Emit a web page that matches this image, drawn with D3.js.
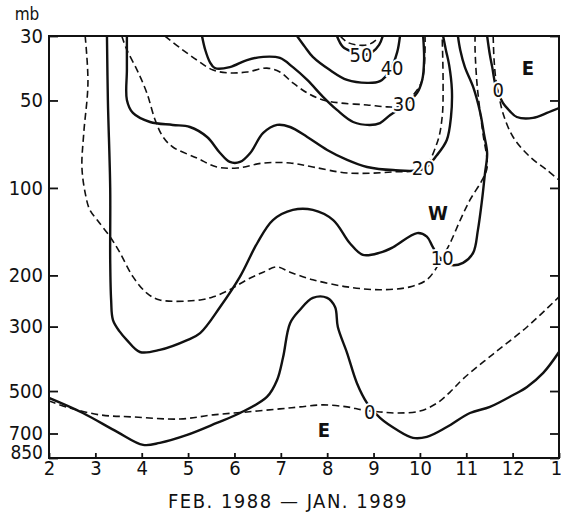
<!DOCTYPE html>
<html>
<head>
<meta charset="utf-8">
<script src="https://cdn.jsdelivr.net/npm/d3@7"></script>
<style>
    html, body { margin: 0; padding: 0; background: #fff; }
    svg { display: block; }
    text { font-family: "DejaVu Sans Condensed", "DejaVu Sans", sans-serif; font-stretch: condensed; fill: #111; }
</style>
</head>
<body>
<div id="chart"></div>
<script>

// Axes (month 2 = Feb 1988 ... 13 = Jan 1989, pressure in mb)

const monthTicks = [2, 3, 4, 5, 6, 7, 8, 9, 10, 11, 12, 13];
const monthLabels = ["2", "3", "4", "5", "6", "7", "8", "9", "10", "11", "12", "1"];
const pressureTicks = [30, 50, 100, 200, 300, 500, 700, 850];

// Solid contours, [month, mb]

const solid0Low = [[2.00, 528], [2.73, 595], [3.47, 691], [4.03, 766], [4.39, 754], [4.98, 708], [5.62, 644], [6.12, 595], [6.70, 524], [6.92, 458], [7.05, 382], [7.20, 292], [7.41, 263], [7.69, 239], [8.00, 239], [8.17, 257], [8.23, 301], [8.43, 370], [8.64, 469], [8.86, 550], [9.14, 619], [9.51, 681], [9.85, 725], [10.15, 719], [10.58, 665], [11.08, 595], [11.51, 567], [12.01, 516], [12.31, 484], [12.66, 433], [13.00, 367]];
const solid0High = [[11.45, 30], [11.51, 34.9], [11.56, 38.4], [11.62, 43.5], [11.69, 46.8], [11.79, 51.0], [11.94, 54.4], [12.09, 57.0], [12.44, 57.4], [12.74, 55.2], [13.00, 53.1]];
const solid10 = [[3.25, 30], [3.27, 49.8], [3.32, 100], [3.32, 177], [3.34, 243], [3.38, 285], [3.53, 313], [3.68, 334], [3.96, 367], [4.39, 361], [4.98, 334], [5.26, 316], [5.69, 257], [6.12, 202], [6.49, 155], [6.83, 129], [7.26, 119], [7.69, 119], [8.13, 129], [8.49, 155], [8.77, 170], [9.14, 167], [9.42, 160], [9.94, 143], [10.15, 147], [10.28, 160], [10.43, 174], [10.65, 184], [10.93, 181], [11.15, 167], [11.25, 140], [11.34, 110], [11.40, 90], [11.45, 76], [11.38, 65], [11.30, 55], [11.15, 45], [10.97, 38.4], [10.87, 33.5], [10.82, 30]];
const solid20 = [[3.68, 30], [3.68, 39.3], [3.68, 49.8], [3.81, 55.2], [4.18, 59.3], [4.67, 60.7], [5.04, 61.7], [5.41, 66.8], [5.69, 75.8], [5.90, 81.4], [6.12, 81.4], [6.34, 75.8], [6.62, 64.7], [6.92, 60.7], [7.20, 61.7], [7.57, 66.8], [8.00, 74.0], [8.43, 80.1], [8.86, 84.7], [9.42, 86.8], [10.07, 86.1], [10.37, 77.0], [10.58, 68.4], [10.67, 57.0], [10.69, 46.0], [10.63, 37.7], [10.56, 33.5], [10.50, 30]];
const solid30 = [[5.30, 30], [5.37, 33.5], [5.47, 36.9], [5.58, 38.7], [5.90, 38.4], [6.27, 36.3], [6.62, 35.4], [6.98, 35.7], [7.26, 38.4], [7.57, 42.5], [7.91, 48.6], [8.21, 53.9], [8.56, 59.3], [8.92, 60.7], [9.14, 59.8], [9.36, 56.1], [9.68, 51.8], [9.94, 47.1], [10.05, 42.5], [10.09, 36.3], [10.07, 30]];
const solid40 = [[7.35, 30], [7.52, 32.7], [7.69, 35.4], [8.06, 39.3], [8.43, 42.5], [8.86, 43.5], [9.14, 42.9], [9.36, 39.3], [9.51, 34.1], [9.57, 30]];
const solid50 = [[8.21, 30], [8.34, 32.7], [8.56, 34.1], [8.75, 34.9], [8.97, 34.1], [9.12, 32.2], [9.20, 30]];

// Dashed contours, [month, mb]

const dashed0Low = [[2.00, 541], [2.45, 572], [3.10, 604], [3.81, 614], [4.83, 624], [5.54, 604], [6.27, 590], [6.98, 576], [7.41, 567], [7.91, 558], [8.43, 567], [8.77, 581], [9.14, 590], [9.51, 595], [10.00, 586], [10.37, 550], [10.65, 504], [10.93, 454], [11.58, 373], [12.31, 301], [13.00, 237]];
const dashed0High = [[11.58, 30], [11.60, 36.3], [11.64, 42.5], [11.69, 46.8], [11.79, 55.2], [12.01, 66.8], [12.38, 78.3], [12.74, 86.8], [13.00, 93.9]];
const dashed10 = [[2.78, 30], [2.84, 43.5], [2.75, 64.7], [2.71, 84.7], [2.78, 104], [2.88, 119], [3.04, 129], [3.32, 147.5], [3.53, 167], [3.81, 202], [4.11, 230], [4.39, 243], [5.26, 243], [5.54, 237], [5.90, 224], [6.27, 207], [6.62, 195], [6.92, 187], [7.20, 195], [7.69, 207], [8.43, 219], [9.14, 224], [9.79, 219], [10.15, 207], [10.37, 187], [10.48, 174], [10.65, 155], [10.87, 129], [11.08, 110], [11.34, 94], [11.45, 85], [11.36, 65], [11.30, 55], [11.23, 43.5], [11.19, 33.5], [11.19, 30]];
const dashed20 = [[3.57, 30], [3.68, 33.5], [3.90, 39.3], [4.11, 47.1], [4.29, 58.4], [4.46, 66.8], [4.67, 72.3], [5.19, 78.9], [5.62, 84.7], [6.06, 85.4], [6.62, 82.1], [7.20, 82.1], [7.69, 84.7], [8.43, 88.8], [9.42, 88.1], [10.07, 85.4], [10.37, 70.0], [10.48, 57.0], [10.50, 43.5], [10.48, 30]];
const dashed30 = [[4.50, 30], [4.83, 33.0], [5.19, 36.3], [5.54, 39.3], [5.90, 40.2], [6.27, 39.9], [6.70, 38.7], [6.98, 39.9], [7.26, 43.5], [7.57, 47.1], [7.91, 49.8], [8.28, 51.0], [8.86, 51.8], [9.29, 52.6], [9.61, 52.2], [9.89, 47.1], [10.05, 42.5], [10.11, 33.5], [10.11, 30]];
const dashed40 = [[8.28, 30], [8.43, 31.5], [8.64, 32.2], [8.86, 32.2], [9.03, 31.2], [9.10, 30]];

// Contour values written on the lines, and wind regimes

const contourLabels = [
    { text: "50", month: 8.73, mb: 34.9 },
    { text: "40", month: 9.40, mb: 38.7 },
    { text: "30", month: 9.66, mb: 51.4 },
    { text: "20", month: 10.07, mb: 85.4 },
    { text: "10", month: 10.48, mb: 174 },
    { text: "0", month: 8.92, mb: 590 },
    { text: "0", month: 11.69, mb: 46 },
];
const regionLabels = [
    { text: "E", month: 12.33, mb: 38.7 },
    { text: "W", month: 10.39, mb: 122 },
    { text: "E", month: 7.93, mb: 680 },
];

const solidLines = [solid0Low, solid0High, solid10, solid20, solid30, solid40, solid50];
const dashedLines = [dashed0Low, dashed0High, dashed10, dashed20, dashed30, dashed40];

class Chart {

    constructor(container) {

        this.dimensions = { width: 561, height: 516 };

        this.margin = { top: 36, bottom: 58, left: 49, right: 2 };

        this.design = {
            solidWidth: 2.4,
            dashedWidth: 1.6,
            dash: "7,4",
            fontSize: 20,
        };

        this.svg = d3.select(container).append("svg")
            .attr("width", this.dimensions.width)
            .attr("height", this.dimensions.height);

        // Scales

        this.x = d3.scaleLinear()
            .domain([2, 13])
            .range([this.margin.left, this.dimensions.width - this.margin.right]);

        this.y = d3.scaleLog()
            .domain([30, 850])
            .range([this.margin.top, this.dimensions.height - this.margin.bottom]);

        this.render();
    }

    render() {
        const x = this.x, y = this.y;
        const left = x.range()[0], right = x.range()[1];
        const top = y.range()[0], bottom = y.range()[1];

        // Clip so the curves stop at the frame

        this.svg.append("clipPath").attr("id", "plot")
            .append("rect")
            .attr("x", left).attr("y", top)
            .attr("width", right - left).attr("height", bottom - top);

        const line = d3.line()
            .curve(d3.curveCatmullRom.alpha(0.5))
            .x(d => x(d[0]))
            .y(d => y(d[1]));

        const plot = this.svg.append("g").attr("clip-path", "url(#plot)");

        plot.selectAll("path.dashed")
            .data(dashedLines)
            .join("path")
            .attr("class", "dashed")
            .attr("fill", "none")
            .attr("stroke", "#111")
            .attr("stroke-width", this.design.dashedWidth)
            .attr("stroke-dasharray", this.design.dash)
            .attr("d", line);

        plot.selectAll("path.solid")
            .data(solidLines)
            .join("path")
            .attr("class", "solid")
            .attr("fill", "none")
            .attr("stroke", "#111")
            .attr("stroke-width", this.design.solidWidth)
            .attr("stroke-linejoin", "round")
            .attr("d", line);

        // Axes, ticks point inward

        const yAxis = d3.axisLeft(y)
            .tickValues(pressureTicks)
            .tickFormat(d3.format("d"))
            .tickSizeInner(-9)
            .tickSizeOuter(0)
            .tickPadding(6);

        const yAxisG = this.svg.append("g")
            .attr("transform", "translate(" + left + ",0)")
            .call(yAxis);

        this.svg.append("g")
            .attr("transform", "translate(" + right + ",0)")
            .call(d3.axisRight(y).tickValues(pressureTicks).tickFormat("").tickSizeInner(-9).tickSizeOuter(0));

        const xAxisG = this.svg.append("g")
            .attr("transform", "translate(0," + bottom + ")")
            .call(d3.axisBottom(x)
                .tickValues(monthTicks)
                .tickFormat((d, i) => monthLabels[i])
                .tickSizeInner(-5)
                .tickSizeOuter(0)
                .tickPadding(3));

        this.svg.selectAll(".domain").remove();
        this.svg.selectAll(".tick line").attr("stroke", "#111").attr("stroke-width", 1.8);
        this.svg.selectAll(".tick text")
            .attr("font-size", this.design.fontSize)
            .attr("font-family", null)
            .attr("fill", "#111");

        // 850 sits on the bottom edge, a bit smaller, so it clears 700 and the month labels
        yAxisG.selectAll(".tick text").filter(d => d === 850)
            .attr("dy", "0em")
            .attr("font-size", 19);

        // last month label is cut by the page edge, nudge it in
        xAxisG.selectAll(".tick text").filter(d => d === 13).attr("x", -3);

        // Frame

        this.svg.append("rect")
            .attr("x", left).attr("y", top)
            .attr("width", right - left).attr("height", bottom - top)
            .attr("fill", "none")
            .attr("stroke", "#111")
            .attr("stroke-width", 2);

        // Labels

        this.svg.selectAll("text.contour")
            .data(contourLabels)
            .join("text")
            .attr("class", "contour")
            .attr("x", d => x(d.month))
            .attr("y", d => y(d.mb))
            .attr("dy", "0.36em")
            .attr("text-anchor", "middle")
            .attr("font-size", this.design.fontSize)
            .attr("stroke", "#fff")
            .attr("stroke-width", 4)
            .attr("paint-order", "stroke")
            .text(d => d.text);

        this.svg.selectAll("text.region")
            .data(regionLabels)
            .join("text")
            .attr("class", "region")
            .attr("x", d => x(d.month))
            .attr("y", d => y(d.mb))
            .attr("dy", "0.36em")
            .attr("text-anchor", "middle")
            .attr("font-size", this.design.fontSize)
            .attr("font-weight", "bold")
            .text(d => d.text);

        this.svg.append("text")
            .attr("x", 27).attr("y", 20)
            .attr("text-anchor", "middle")
            .attr("font-size", 17)
            .text("mb");

        this.svg.append("text")
            .attr("x", 288).attr("y", 508)
            .attr("text-anchor", "middle")
            .attr("font-size", this.design.fontSize)
            .attr("letter-spacing", 1.5)
            .text("FEB. 1988 — JAN. 1989");
    }
}

new Chart(document.getElementById("chart"));
</script>
</body>
</html>
